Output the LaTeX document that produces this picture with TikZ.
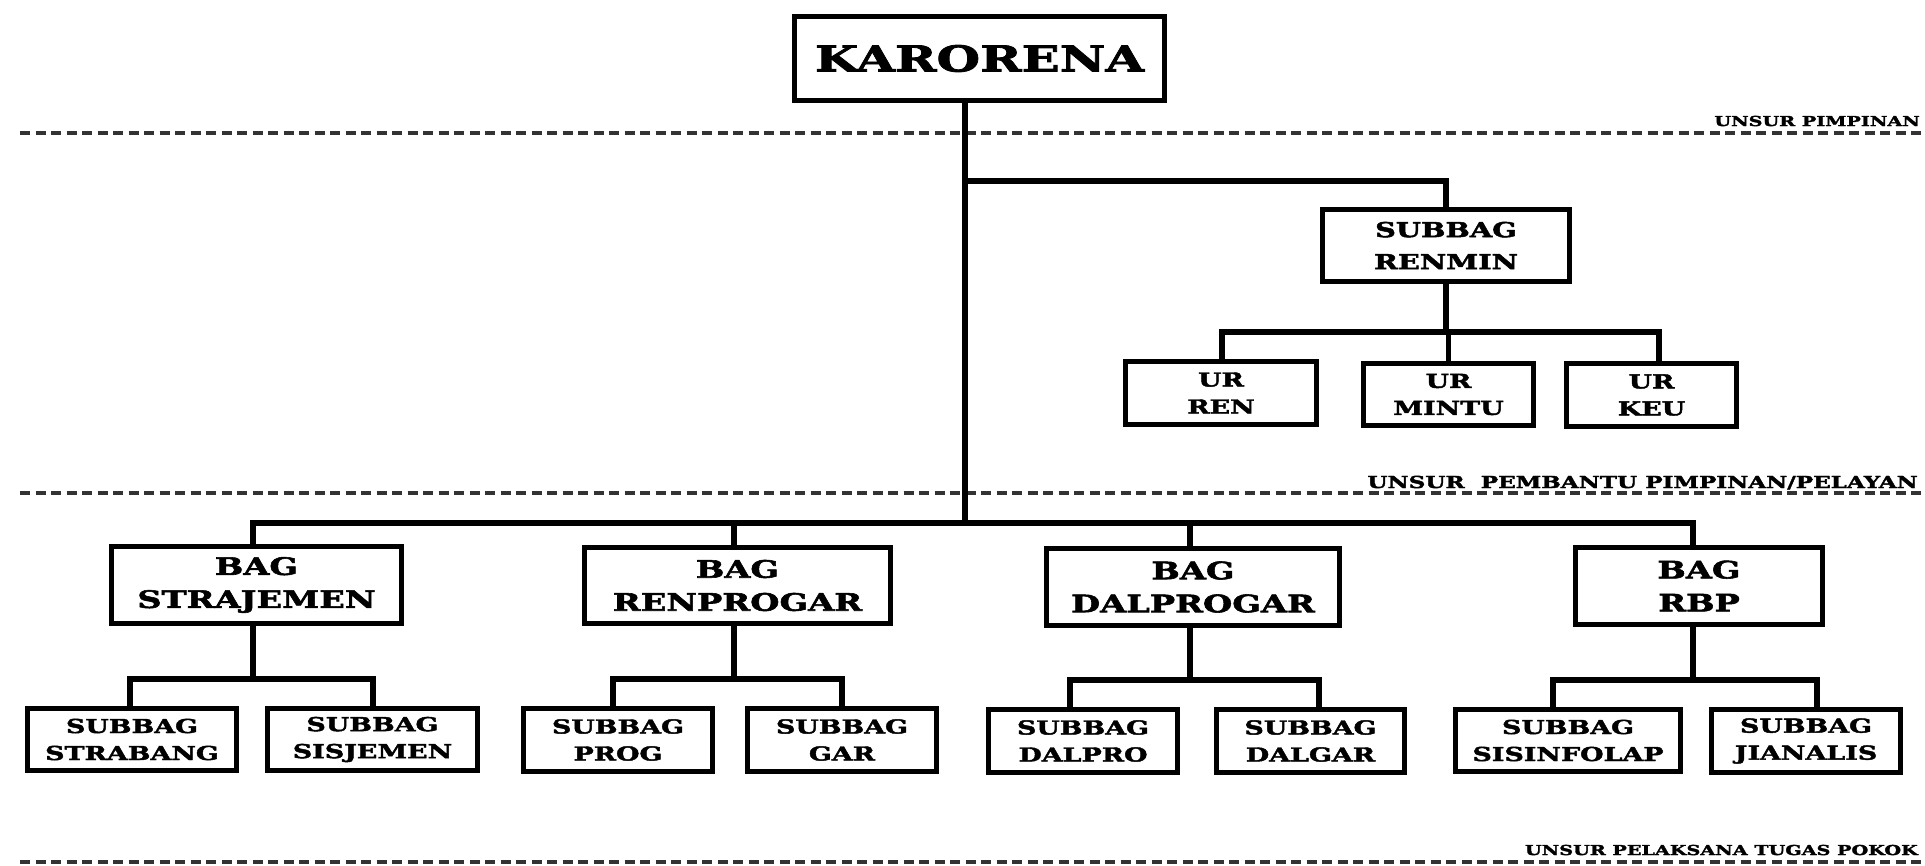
\documentclass[tikz,border=0pt]{standalone}
\usepackage{fontspec}
\newfontfamily\orgfont[FakeStretch=1.4, BoldFeatures={FakeBold=2.3}]{DejaVu Serif}
\begin{document}
\begin{tikzpicture}[x=1pt,y=-1pt,
  box/.style={draw, line width=5pt, align=center, inner sep=0pt},
  subbox/.style={box, font=\orgfont\bfseries\fontsize{19.2}{27}\selectfont},
  bagbox/.style={box, font=\orgfont\bfseries\fontsize{24}{33}\selectfont},
  link/.style={line width=5.5pt, line join=miter},
  sep/.style={line width=3.5pt, dash pattern=on 10pt off 5.5pt, black!80},
  lab/.style={anchor=base east, inner sep=0pt}]
\fill[white] (0,0) rectangle (1925,865);
\useasboundingbox (0,0) rectangle (1925,865);

% separators
\draw[sep] (20,133) -- (1922,133);
\draw[sep] (20,493) -- (1922,493);
\draw[sep] (20,862) -- (1922,862);

% labels
\node[lab, font=\orgfont\bfseries\fontsize{13.7}{16}\selectfont] (l1) at (1920,126) {UNSUR PIMPINAN};
\node[lab, font=\orgfont\bfseries\fontsize{16.5}{19}\selectfont] (l2) at (1918,488) {UNSUR\ \ PEMBANTU PIMPINAN/PELAYAN};
\node[lab, font=\orgfont\bfseries\fontsize{13.7}{16}\selectfont] (l3) at (1918,855) {UNSUR PELAKSANA TUGAS POKOK};

% nodes
\node[box, font=\orgfont\bfseries\fontsize{35.7}{40}\selectfont, minimum width=370pt, minimum height=84pt] (karorena) at (979.5,58.5) {KARORENA};

\node[box, font=\orgfont\bfseries\fontsize{20.6}{32}\selectfont, minimum width=247pt, minimum height=72pt] (renmin) at (1446,245.5) {SUBBAG\\RENMIN};
\node[subbox, minimum width=191pt, minimum height=63pt] (urren) at (1221,393) {UR\\REN};
\node[subbox, minimum width=170pt, minimum height=62pt] (urmintu) at (1448.5,394.5) {UR\\MINTU};
\node[subbox, minimum width=170pt, minimum height=63pt] (urkeu) at (1651.5,395) {UR\\KEU};

\node[bagbox, minimum width=290pt, minimum height=77pt] (strajemen) at (256.5,585) {BAG\\STRAJEMEN};
\node[bagbox, minimum width=306pt, minimum height=76pt] (renprogar) at (737.5,585.5) {BAG\\RENPROGAR};
\node[bagbox, minimum width=293pt, minimum height=77pt] (dalprogar) at (1193,587) {BAG\\DALPROGAR};
\node[bagbox, minimum width=247pt, minimum height=77pt] (rbp) at (1699,586) {BAG\\RBP};

\node[subbox, minimum width=209pt, minimum height=62pt] (strabang) at (132,739.5) {SUBBAG\\STRABANG};
\node[subbox, minimum width=210pt, minimum height=62pt] (sisjemen) at (372.5,739.5) {SUBBAG\\SISJEMEN};
\node[subbox, minimum width=189pt, minimum height=63pt] (prog) at (618,740) {SUBBAG\\PROG};
\node[subbox, minimum width=189pt, minimum height=63pt] (gar) at (842,740) {SUBBAG\\GAR};
\node[subbox, minimum width=189pt, minimum height=63pt] (dalpro) at (1083,741) {SUBBAG\\DALPRO};
\node[subbox, minimum width=188pt, minimum height=63pt] (dalgar) at (1310.5,741) {SUBBAG\\DALGAR};
\node[subbox, minimum width=225pt, minimum height=62pt] (sisinfolap) at (1568,740.5) {SUBBAG\\SISINFOLAP};
\node[subbox, minimum width=189pt, minimum height=63pt] (jianalis) at (1806,741) {SUBBAG\\JIANALIS};

% junction coordinates
\coordinate (trunk) at (965,523);
\coordinate (jr) at (965,181);
\coordinate (ub) at (1447,332);
\coordinate (ubl) at (1222,332);
\coordinate (ubr) at (1659,332);
\coordinate (m1) at (253,523);
\coordinate (m2) at (734,523);
\coordinate (m3) at (1190,523);
\coordinate (m4) at (1693,523);
\coordinate (s1l) at (130,679);
\coordinate (s1r) at (373,679);
\coordinate (s2l) at (613,679);
\coordinate (s2r) at (842,679);
\coordinate (s3l) at (1070,680);
\coordinate (s3r) at (1319,680);
\coordinate (s4l) at (1553,680);
\coordinate (s4r) at (1817,680);

% connectors
\draw[link] (karorena.south -| trunk) -- (trunk);
\draw[link] (jr) -| (renmin.north);
\draw[link] (renmin.south) -- (renmin.south |- ub);
\draw[link] (urren.north -| ubl) |- (ubr) -- (urkeu.north -| ubr);
\draw[link] (urmintu.north) -- (urmintu.north |- ub);

\draw[link] (strajemen.north -| m1) |- (m4) -- (rbp.north -| m4);
\draw[link] (renprogar.north -| m2) -- (m2);
\draw[link] (dalprogar.north -| m3) -- (m3);

\draw[link] (strajemen.south -| m1) -- (m1 |- s1l);
\draw[link] (strabang.north -| s1l) |- (s1r) -- (sisjemen.north -| s1r);
\draw[link] (renprogar.south -| m2) -- (m2 |- s2l);
\draw[link] (prog.north -| s2l) |- (s2r) -- (gar.north -| s2r);
\draw[link] (dalprogar.south -| m3) -- (m3 |- s3l);
\draw[link] (dalpro.north -| s3l) |- (s3r) -- (dalgar.north -| s3r);
\draw[link] (rbp.south -| m4) -- (m4 |- s4l);
\draw[link] (sisinfolap.north -| s4l) |- (s4r) -- (jianalis.north -| s4r);
\end{tikzpicture}
\end{document}
